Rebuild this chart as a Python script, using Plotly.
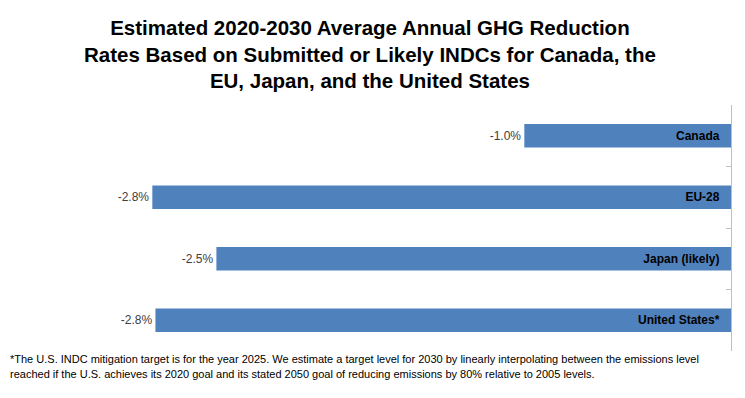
import plotly.graph_objects as go

categories = ["Canada", "EU-28", "Japan (likely)", "United States*"]
values = [-1.0, -2.80, -2.49, -2.785]
value_labels = ["-1.0%", "-2.8%", "-2.5%", "-2.8%"]

title_lines = [
    "Estimated 2020-2030 Average Annual GHG Reduction",
    "Rates Based on Submitted or Likely INDCs for Canada, the",
    "EU, Japan, and the United States",
]
footnote_lines = [
    "*The U.S. INDC mitigation target is for the year 2025. We estimate a target level for 2030 by linearly "
    "interpolating between the emissions level",
    "reached if the U.S. achieves its 2020 goal and its stated 2050 goal of reducing emissions by 80% "
    "relative to 2005 levels.",
]

FONT = "Liberation Sans, Arial, sans-serif"

fig = go.Figure(go.Bar(
    y=categories, x=values, orientation="h",
    marker=dict(color="#4F81BD", line=dict(width=0)),
    width=0.38,
    text=value_labels, textposition="outside", cliponaxis=False,
    textfont=dict(family=FONT, size=12, color="#404040"),
    hoverinfo="skip",
))

annotations = [dict(text="<br>".join(title_lines), xref="paper", yref="paper", x=0.4177, y=1.369,
                    xanchor="center", yanchor="top", align="center", showarrow=False,
                    font=dict(family=FONT, size=20.5, color="black", weight="bold"))]
for i, line in enumerate(footnote_lines):
    annotations.append(dict(text=line, xref="paper", yref="paper", x=-0.166, y=-0.0325 - 0.061 * i,
                            xanchor="left", yanchor="middle", align="left", showarrow=False,
                            font=dict(family=FONT, size=11, color="black")))

fig.update_layout(
    width=737, height=390,
    margin=dict(l=103, r=14, t=97, b=47),
    paper_bgcolor="white", plot_bgcolor="white",
    showlegend=False,
    xaxis=dict(range=[-3.0, 0], visible=False, fixedrange=True),
    yaxis=dict(autorange="reversed", side="right", ticklabelposition="inside",
               showline=True, linecolor="#BFBFBF", linewidth=1,
               ticks="inside", tickson="boundaries", ticklen=5, tickcolor="#BFBFBF",
               tickfont=dict(family=FONT, size=12, color="black", weight="bold"),
               ticklabelstandoff=6, showgrid=False, zeroline=False),
    annotations=annotations,
)

fig.write_html("out.html")
